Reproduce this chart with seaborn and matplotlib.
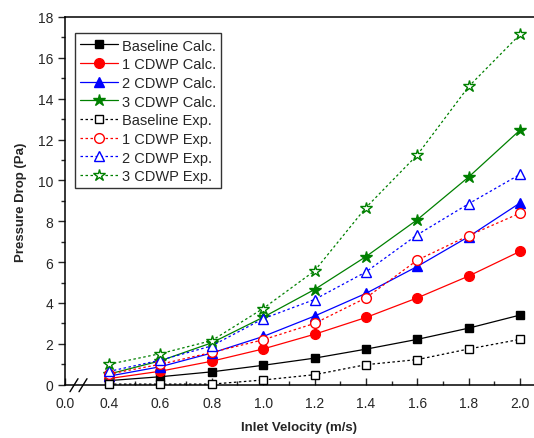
import seaborn as sns
import matplotlib.pyplot as plt
import pandas as pd
from matplotlib.ticker import MultipleLocator

# Inlet velocity (m/s)
velocity = [0.4, 0.6, 0.8, 1.0, 1.2, 1.4, 1.6, 1.8, 2.0]

# Pressure drop (Pa)
baseline_calc = [0.20, 0.39, 0.63, 0.95, 1.30, 1.74, 2.22, 2.77, 3.41]
cdwp1_calc = [0.30, 0.66, 1.15, 1.75, 2.47, 3.29, 4.25, 5.32, 6.53]
cdwp2_calc = [0.42, 0.88, 1.55, 2.36, 3.36, 4.47, 5.79, 7.25, 8.90]
cdwp3_calc = [0.52, 1.17, 2.05, 3.30, 4.66, 6.27, 8.08, 10.17, 12.47]
baseline_exp = [0.03, 0.03, 0.03, 0.23, 0.49, 0.98, 1.23, 1.75, 2.22]
cdwp1_exp = [0.52, 1.00, 1.58, 2.20, 3.00, 4.25, 6.10, 7.30, 8.40]
cdwp2_exp = [0.65, 1.20, 1.90, 3.23, 4.17, 5.52, 7.34, 8.86, 10.30]
cdwp3_exp = [1.00, 1.52, 2.16, 3.73, 5.57, 8.67, 11.25, 14.60, 17.15]

series = [
    ("Baseline Calc.", baseline_calc, "black", "s", "-", True),
    ("1 CDWP Calc.", cdwp1_calc, "red", "o", "-", True),
    ("2 CDWP Calc.", cdwp2_calc, "blue", "^", "-", True),
    ("3 CDWP Calc.", cdwp3_calc, "green", "*", "-", True),
    ("Baseline Exp.", baseline_exp, "black", "s", (0, (2, 2)), False),
    ("1 CDWP Exp.", cdwp1_exp, "red", "o", (0, (2, 2)), False),
    ("2 CDWP Exp.", cdwp2_exp, "blue", "^", (0, (2, 2)), False),
    ("3 CDWP Exp.", cdwp3_exp, "green", "*", (0, (2, 2)), False),
]
marker_size = {"s": 6, "o": 7, "^": 7, "*": 9}

sns.set_style("ticks")
plt.rcParams["font.family"] = ["Liberation Sans", "DejaVu Sans"]

fig = plt.figure(figsize=(5.34, 4.39), dpi=100)
ax = fig.add_axes([0.1217, 0.1214, 0.8783, 0.8376])

for name, vals, color, marker, ls, filled in series:
    df = pd.DataFrame({"Velocity": velocity, "Pressure": vals})
    sns.lineplot(
        data=df, x="Velocity", y="Pressure", ax=ax, color=color,
        marker=marker, markersize=marker_size[marker], linestyle=ls,
        linewidth=0.9,
        markerfacecolor=color if filled else "white",
        markeredgecolor=color, markeredgewidth=1.0,
        label=name, clip_on=False, zorder=3,
    )

ax.set_xlim(0.229, 2.054)
ax.set_ylim(0, 18)

# x axis is broken between 0.0 and 0.4
xt = [0.229] + velocity
ax.set_xticks(xt)
ax.set_xticklabels(["0.0"] + [f"{v:.1f}" for v in velocity])
ax.set_xticks([0.5, 0.7, 0.9, 1.1, 1.3, 1.5, 1.7, 1.9], minor=True)
ax.yaxis.set_major_locator(MultipleLocator(2))
ax.yaxis.set_minor_locator(MultipleLocator(1))

ax.tick_params(axis="x", which="major", direction="in", length=5, width=1,
               labelsize=10, pad=8, top=False)
ax.tick_params(axis="x", which="minor", direction="in", length=3, width=1)
ax.tick_params(axis="y", which="major", direction="out", length=5, width=1,
               labelsize=10)
ax.tick_params(axis="y", which="minor", direction="out", length=3, width=1)

for s in ["left", "bottom", "top"]:
    ax.spines[s].set_linewidth(1.1)
    ax.spines[s].set_color("black")
ax.spines["right"].set_visible(False)

# break marks on the x axis
y0 = (439 - 385.7) / 439
for x0 in (70, 79):
    ax.plot([x0 / 534, (x0 + 8) / 534], [y0 - 7 / 439, y0 + 6 / 439],
            color="black", lw=1, transform=fig.transFigure, clip_on=False)

ax.set_xlabel("Inlet Velocity (m/s)", fontsize=9.5, fontweight="bold", labelpad=8)
ax.set_ylabel("Pressure Drop (Pa)", fontsize=9.5, fontweight="bold", labelpad=8)

leg = ax.legend(loc="upper left", bbox_to_anchor=(0.005, 0.975), fontsize=10.5,
                frameon=True, fancybox=False, edgecolor="black",
                handlelength=2.6, handletextpad=0.3, labelspacing=0.32,
                borderpad=0.35)
leg.get_frame().set_linewidth(1)

fig.savefig("out.png", dpi=100)
